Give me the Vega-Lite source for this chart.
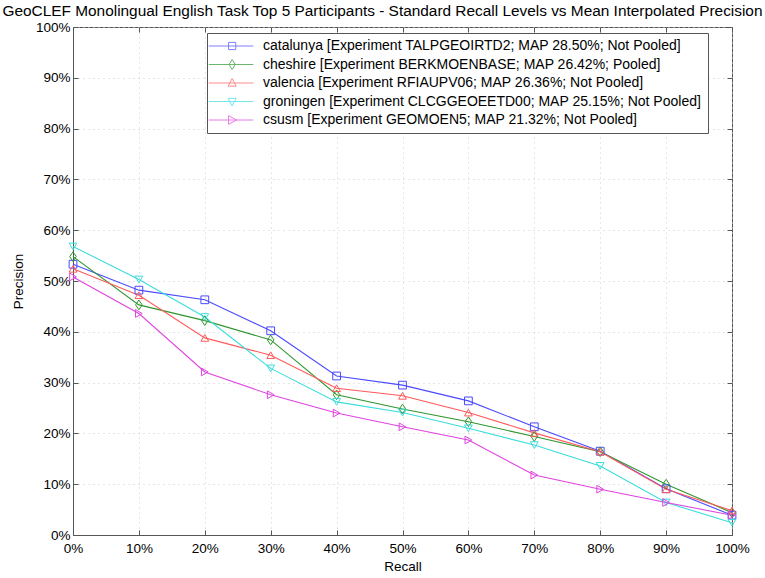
{
  "$schema": "https://vega.github.io/schema/vega-lite/v6.json",
  "autosize": {"type": "none"},
  "width": 659,
  "height": 508,
  "padding": {"left": 73, "top": 27, "right": 33, "bottom": 43},
  "background": "white",
  "title": {
    "text": "GeoCLEF Monolingual English Task Top 5 Participants - Standard Recall Levels vs Mean Interpolated Precision",
    "font": "Liberation Sans",
    "fontSize": 15.4,
    "fontWeight": "normal",
    "color": "black",
    "anchor": "middle",
    "dx": -20,
    "offset": 1
  },
  "config": {
    "view": {"stroke": "#555", "strokeWidth": 1},
    "axis": {
      "labelFont": "Liberation Sans",
      "labelFontSize": 13.5,
      "labelColor": "black",
      "titleFont": "Liberation Sans",
      "titleFontSize": 13.5,
      "titleFontWeight": "normal",
      "titleColor": "black",
      "domainColor": "#555",
      "tickColor": "#555",
      "tickSize": -5,
      "gridColor": "#cccccc",
      "gridDash": [1, 4],
      "gridWidth": 1
    }
  },
  "datasets": {
    "runs": [
      {"participant": "catalunya [Experiment TALPGEOIRTD2; MAP 28.50%; Not Pooled]", "recall": 0, "precision": 53.3},
      {"participant": "catalunya [Experiment TALPGEOIRTD2; MAP 28.50%; Not Pooled]", "recall": 10, "precision": 48.2},
      {"participant": "catalunya [Experiment TALPGEOIRTD2; MAP 28.50%; Not Pooled]", "recall": 20, "precision": 46.3},
      {"participant": "catalunya [Experiment TALPGEOIRTD2; MAP 28.50%; Not Pooled]", "recall": 30, "precision": 40.2},
      {"participant": "catalunya [Experiment TALPGEOIRTD2; MAP 28.50%; Not Pooled]", "recall": 40, "precision": 31.3},
      {"participant": "catalunya [Experiment TALPGEOIRTD2; MAP 28.50%; Not Pooled]", "recall": 50, "precision": 29.5},
      {"participant": "catalunya [Experiment TALPGEOIRTD2; MAP 28.50%; Not Pooled]", "recall": 60, "precision": 26.4},
      {"participant": "catalunya [Experiment TALPGEOIRTD2; MAP 28.50%; Not Pooled]", "recall": 70, "precision": 21.3},
      {"participant": "catalunya [Experiment TALPGEOIRTD2; MAP 28.50%; Not Pooled]", "recall": 80, "precision": 16.5},
      {"participant": "catalunya [Experiment TALPGEOIRTD2; MAP 28.50%; Not Pooled]", "recall": 90, "precision": 9.1},
      {"participant": "catalunya [Experiment TALPGEOIRTD2; MAP 28.50%; Not Pooled]", "recall": 100, "precision": 3.9},
      {"participant": "cheshire [Experiment BERKMOENBASE; MAP 26.42%; Pooled]", "recall": 0, "precision": 54.8},
      {"participant": "cheshire [Experiment BERKMOENBASE; MAP 26.42%; Pooled]", "recall": 10, "precision": 45.3},
      {"participant": "cheshire [Experiment BERKMOENBASE; MAP 26.42%; Pooled]", "recall": 20, "precision": 42.2},
      {"participant": "cheshire [Experiment BERKMOENBASE; MAP 26.42%; Pooled]", "recall": 30, "precision": 38.4},
      {"participant": "cheshire [Experiment BERKMOENBASE; MAP 26.42%; Pooled]", "recall": 40, "precision": 27.6},
      {"participant": "cheshire [Experiment BERKMOENBASE; MAP 26.42%; Pooled]", "recall": 50, "precision": 24.8},
      {"participant": "cheshire [Experiment BERKMOENBASE; MAP 26.42%; Pooled]", "recall": 60, "precision": 22.3},
      {"participant": "cheshire [Experiment BERKMOENBASE; MAP 26.42%; Pooled]", "recall": 70, "precision": 19.4},
      {"participant": "cheshire [Experiment BERKMOENBASE; MAP 26.42%; Pooled]", "recall": 80, "precision": 16.4},
      {"participant": "cheshire [Experiment BERKMOENBASE; MAP 26.42%; Pooled]", "recall": 90, "precision": 10.0},
      {"participant": "cheshire [Experiment BERKMOENBASE; MAP 26.42%; Pooled]", "recall": 100, "precision": 4.4},
      {"participant": "valencia [Experiment RFIAUPV06; MAP 26.36%; Not Pooled]", "recall": 0, "precision": 52.4},
      {"participant": "valencia [Experiment RFIAUPV06; MAP 26.36%; Not Pooled]", "recall": 10, "precision": 47.2},
      {"participant": "valencia [Experiment RFIAUPV06; MAP 26.36%; Not Pooled]", "recall": 20, "precision": 38.8},
      {"participant": "valencia [Experiment RFIAUPV06; MAP 26.36%; Not Pooled]", "recall": 30, "precision": 35.4},
      {"participant": "valencia [Experiment RFIAUPV06; MAP 26.36%; Not Pooled]", "recall": 40, "precision": 28.9},
      {"participant": "valencia [Experiment RFIAUPV06; MAP 26.36%; Not Pooled]", "recall": 50, "precision": 27.4},
      {"participant": "valencia [Experiment RFIAUPV06; MAP 26.36%; Not Pooled]", "recall": 60, "precision": 24.1},
      {"participant": "valencia [Experiment RFIAUPV06; MAP 26.36%; Not Pooled]", "recall": 70, "precision": 20.1},
      {"participant": "valencia [Experiment RFIAUPV06; MAP 26.36%; Not Pooled]", "recall": 80, "precision": 16.4},
      {"participant": "valencia [Experiment RFIAUPV06; MAP 26.36%; Not Pooled]", "recall": 90, "precision": 9.0},
      {"participant": "valencia [Experiment RFIAUPV06; MAP 26.36%; Not Pooled]", "recall": 100, "precision": 4.8},
      {"participant": "groningen [Experiment CLCGGEOEETD00; MAP 25.15%; Not Pooled]", "recall": 0, "precision": 56.8},
      {"participant": "groningen [Experiment CLCGGEOEETD00; MAP 25.15%; Not Pooled]", "recall": 10, "precision": 50.3},
      {"participant": "groningen [Experiment CLCGGEOEETD00; MAP 25.15%; Not Pooled]", "recall": 20, "precision": 42.9},
      {"participant": "groningen [Experiment CLCGGEOEETD00; MAP 25.15%; Not Pooled]", "recall": 30, "precision": 32.8},
      {"participant": "groningen [Experiment CLCGGEOEETD00; MAP 25.15%; Not Pooled]", "recall": 40, "precision": 26.2},
      {"participant": "groningen [Experiment CLCGGEOEETD00; MAP 25.15%; Not Pooled]", "recall": 50, "precision": 24.1},
      {"participant": "groningen [Experiment CLCGGEOEETD00; MAP 25.15%; Not Pooled]", "recall": 60, "precision": 21.0},
      {"participant": "groningen [Experiment CLCGGEOEETD00; MAP 25.15%; Not Pooled]", "recall": 70, "precision": 17.7},
      {"participant": "groningen [Experiment CLCGGEOEETD00; MAP 25.15%; Not Pooled]", "recall": 80, "precision": 13.6},
      {"participant": "groningen [Experiment CLCGGEOEETD00; MAP 25.15%; Not Pooled]", "recall": 90, "precision": 6.4},
      {"participant": "groningen [Experiment CLCGGEOEETD00; MAP 25.15%; Not Pooled]", "recall": 100, "precision": 2.4},
      {"participant": "csusm [Experiment GEOMOEN5; MAP 21.32%; Not Pooled]", "recall": 0, "precision": 50.8},
      {"participant": "csusm [Experiment GEOMOEN5; MAP 21.32%; Not Pooled]", "recall": 10, "precision": 43.6},
      {"participant": "csusm [Experiment GEOMOEN5; MAP 21.32%; Not Pooled]", "recall": 20, "precision": 32.1},
      {"participant": "csusm [Experiment GEOMOEN5; MAP 21.32%; Not Pooled]", "recall": 30, "precision": 27.6},
      {"participant": "csusm [Experiment GEOMOEN5; MAP 21.32%; Not Pooled]", "recall": 40, "precision": 24.0},
      {"participant": "csusm [Experiment GEOMOEN5; MAP 21.32%; Not Pooled]", "recall": 50, "precision": 21.3},
      {"participant": "csusm [Experiment GEOMOEN5; MAP 21.32%; Not Pooled]", "recall": 60, "precision": 18.7},
      {"participant": "csusm [Experiment GEOMOEN5; MAP 21.32%; Not Pooled]", "recall": 70, "precision": 11.8},
      {"participant": "csusm [Experiment GEOMOEN5; MAP 21.32%; Not Pooled]", "recall": 80, "precision": 9.0},
      {"participant": "csusm [Experiment GEOMOEN5; MAP 21.32%; Not Pooled]", "recall": 90, "precision": 6.4},
      {"participant": "csusm [Experiment GEOMOEN5; MAP 21.32%; Not Pooled]", "recall": 100, "precision": 3.9}
    ]
  },
  "data": {"name": "runs"},
  "resolve": {
    "scale": {"color": "independent", "shape": "independent"},
    "axis": {"x": "independent", "y": "independent"}
  },
  "layer": [
    {
      "mark": {"type": "line", "strokeWidth": 1.1},
      "encoding": {
        "x": {
          "field": "recall", "type": "quantitative",
          "scale": {"domain": [0, 100], "nice": false},
          "axis": {"values": [0, 10, 20, 30, 40, 50, 60, 70, 80, 90, 100], "labelExpr": "datum.value + '%'", "title": "Recall", "grid": true, "labelPadding": 11, "titlePadding": 5, "labelFlush": false}
        },
        "y": {
          "field": "precision", "type": "quantitative",
          "scale": {"domain": [0, 100], "nice": false},
          "axis": {"values": [0, 10, 20, 30, 40, 50, 60, 70, 80, 90, 100], "labelExpr": "datum.value + '%'", "title": "Precision", "grid": true, "labelPadding": 8, "titlePadding": 10, "labelFlush": false}
        },
        "color": {
          "field": "participant", "type": "nominal", "legend": null,
          "scale": {
            "domain": ["catalunya [Experiment TALPGEOIRTD2; MAP 28.50%; Not Pooled]", "cheshire [Experiment BERKMOENBASE; MAP 26.42%; Pooled]", "valencia [Experiment RFIAUPV06; MAP 26.36%; Not Pooled]", "groningen [Experiment CLCGGEOEETD00; MAP 25.15%; Not Pooled]", "csusm [Experiment GEOMOEN5; MAP 21.32%; Not Pooled]"],
            "range": ["#4a4aff", "#2e962e", "#ff5a5a", "#3cdcdc", "#e045e0"]
          }
        }
      }
    },
    {
      "mark": {"type": "point", "filled": false, "size": 60, "strokeWidth": 1, "opacity": 1},
      "encoding": {
        "x": {"field": "recall", "type": "quantitative", "axis": null},
        "y": {"field": "precision", "type": "quantitative", "axis": null},
        "color": {
          "field": "participant", "type": "nominal", "legend": null,
          "scale": {
            "domain": ["catalunya [Experiment TALPGEOIRTD2; MAP 28.50%; Not Pooled]", "cheshire [Experiment BERKMOENBASE; MAP 26.42%; Pooled]", "valencia [Experiment RFIAUPV06; MAP 26.36%; Not Pooled]", "groningen [Experiment CLCGGEOEETD00; MAP 25.15%; Not Pooled]", "csusm [Experiment GEOMOEN5; MAP 21.32%; Not Pooled]"],
            "range": ["#4a4aff", "#2e962e", "#ff5a5a", "#3cdcdc", "#e045e0"]
          }
        },
        "shape": {
          "field": "participant", "type": "nominal", "legend": null,
          "scale": {
            "domain": ["catalunya [Experiment TALPGEOIRTD2; MAP 28.50%; Not Pooled]", "cheshire [Experiment BERKMOENBASE; MAP 26.42%; Pooled]", "valencia [Experiment RFIAUPV06; MAP 26.36%; Not Pooled]", "groningen [Experiment CLCGGEOEETD00; MAP 25.15%; Not Pooled]", "csusm [Experiment GEOMOEN5; MAP 21.32%; Not Pooled]"],
            "range": ["square", "M0,-1.25L0.85,0L0,1.25L-0.85,0Z", "triangle-up", "triangle-down", "triangle-right"]
          }
        }
      }
    },
    {
      "transform": [{"filter": "datum.recall < 0"}],
      "mark": {"type": "point", "filled": false, "strokeWidth": 1},
      "encoding": {
        "x": {"field": "recall", "type": "quantitative", "axis": {"orient": "top", "labels": false, "title": null, "grid": false, "values": [0, 10, 20, 30, 40, 50, 60, 70, 80, 90, 100], "domain": false}},
        "y": {"field": "precision", "type": "quantitative", "axis": {"orient": "right", "labels": false, "title": null, "grid": false, "values": [0, 10, 20, 30, 40, 50, 60, 70, 80, 90, 100], "domain": false}},
        "color": {
          "field": "participant", "type": "nominal",
          "scale": {
            "domain": ["catalunya [Experiment TALPGEOIRTD2; MAP 28.50%; Not Pooled]", "cheshire [Experiment BERKMOENBASE; MAP 26.42%; Pooled]", "valencia [Experiment RFIAUPV06; MAP 26.36%; Not Pooled]", "groningen [Experiment CLCGGEOEETD00; MAP 25.15%; Not Pooled]", "csusm [Experiment GEOMOEN5; MAP 21.32%; Not Pooled]"],
            "range": ["#4a4aff", "#2e962e", "#ff5a5a", "#3cdcdc", "#e045e0"]
          },
          "legend": {"title": null}
        },
        "shape": {
          "field": "participant", "type": "nominal",
          "scale": {
            "domain": ["catalunya [Experiment TALPGEOIRTD2; MAP 28.50%; Not Pooled]", "cheshire [Experiment BERKMOENBASE; MAP 26.42%; Pooled]", "valencia [Experiment RFIAUPV06; MAP 26.36%; Not Pooled]", "groningen [Experiment CLCGGEOEETD00; MAP 25.15%; Not Pooled]", "csusm [Experiment GEOMOEN5; MAP 21.32%; Not Pooled]"],
            "range": [
              "M-2.5,0H7.4M1.9,-0.8H3.5V0.8H1.9Z",
              "M-2.5,0H7.4M2.7,-1.1L3.4,0L2.7,1.1L2,0Z",
              "M-2.5,0H7.4M2.7,-1L3.6,0.7L1.8,0.7Z",
              "M-2.5,0H7.4M2.7,1L3.6,-0.7L1.8,-0.7Z",
              "M-2.5,0H7.4M3.7,0L1.9,-0.95L1.9,0.95Z"
            ]
          },
          "legend": {
            "title": null,
            "orient": "none",
            "legendX": 134,
            "legendY": 6,
            "padding": 6,
            "strokeColor": "#555",
            "fillColor": "white",
            "symbolSize": 81,
            "symbolStrokeWidth": 1,
            "symbolFillColor": "transparent",
            "labelFont": "Liberation Sans",
            "labelFontSize": 14,
            "labelColor": "black",
            "labelLimit": 600,
            "labelOffset": 36,
            "rowPadding": 4.5
          }
        }
      }
    }
  ]
}
